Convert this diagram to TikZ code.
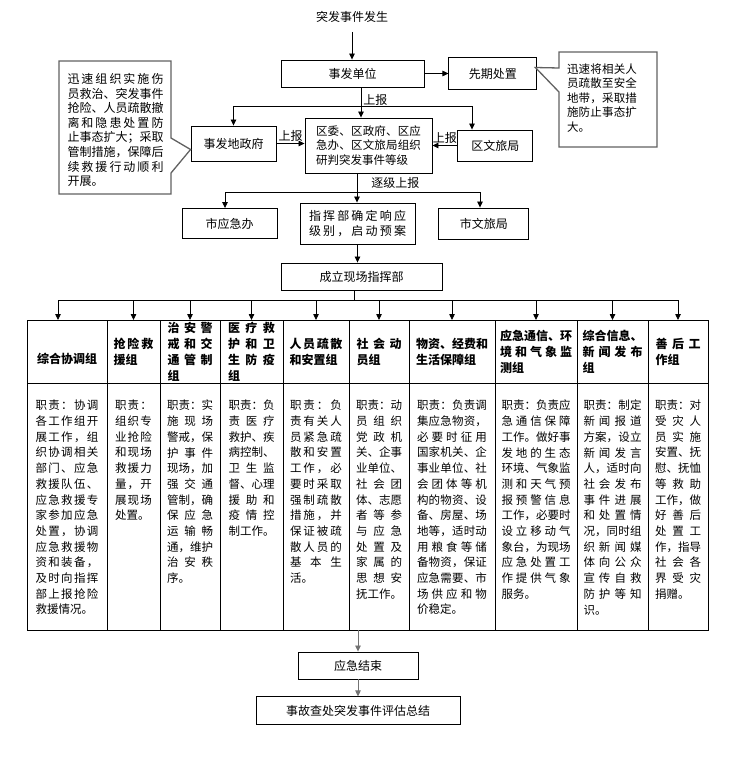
\documentclass[tikz,border=0pt]{standalone}
\usepackage{fontspec}
\setmainfont{Noto Sans CJK SC}
\usetikzlibrary{arrows.meta,positioning,calc}

\makeatletter
\newcommand\spreadln[1]{\hbox to\hsize{\spr@a#1\spr@stop}\par}
\def\spr@stop{\spr@stop}
\def\spr@a#1{#1\futurelet\spr@next\spr@b}
\def\spr@b{\ifx\spr@next\spr@stop\expandafter\@gobble\else\hfil\expandafter\spr@a\fi}
\makeatother

\begin{document}
\begin{tikzpicture} [
       x=1pt, y=-1pt,
       >={Triangle[length=6pt,width=5.5pt]},
       box/.style={draw, line width=0.9pt, inner sep=3pt,
               font=\fontsize{12}{15}\selectfont},
       lbl/.style={inner sep=2pt, font=\fontsize{12}{15}\selectfont},
       cell/.style={draw, line width=0.9pt, inner sep=0pt, outer sep=0pt,
               minimum height=63pt, align=left,
               font=\bfseries\fontsize{12}{16}\selectfont},
       bodycell/.style={draw, line width=0.9pt, inner sep=0pt, outer sep=0pt,
               minimum height=247pt},
       duty/.style={inner sep=0pt, align=left,
               font=\fontsize{11.5}{15.7}\selectfont},
       note/.style={inner sep=0pt, align=left},
       callout/.style={draw=black!62, line width=1.3pt},
       line/.style={draw, line width=0.8pt, ->},
       ]
       \useasboundingbox (0,0) rectangle (743,760);

       \node (start) [lbl] at (352,17) {突发事件发生};
       \node (sfdw) [box, minimum width=143pt, minimum height=27pt] at (352.5,73.5) {事发单位};
       \node (xqcz) [box, minimum width=88pt, minimum height=32pt, right=24pt of sfdw] {先期处置};
       \node (qw) [box, minimum width=127pt, minimum height=55pt, text width=105pt, align=left,
               font=\fontsize{11.5}{14.5}\selectfont] at (368.5,145.5)
               {\spreadln{区委、区政府、区应}\spreadln{急办、区文旅局组织}研判突发事件等级};
       \node (zfdzf) [box, minimum width=85pt, minimum height=35pt] at (233.5,143.5) {事发地政府};
       \node (qwlj) [box, minimum width=75pt, minimum height=31pt, right=25pt of qw] {区文旅局};
       \node (zhb) [box, minimum width=115pt, minimum height=41pt, text width=97pt, align=left] at (357.5,223.5)
               {\spreadln{指挥部确定响应}\spreadln{级别，启动预案}};
       \node (sjb) [box, minimum width=95pt, minimum height=30pt, left=22pt of zhb] {市应急办};
       \node (swlj) [box, minimum width=90pt, minimum height=31pt, right=23pt of zhb] {市文旅局};
       \node (xczhb) [box, minimum width=161pt, minimum height=27pt] at (361.5,276.5) {成立现场指挥部};

       \node (cl) [note, text width=96pt, font=\fontsize{12}{14.6}\selectfont] at (115.5,130)
               {\spreadln{迅速组织实施伤}\spreadln{员救治、突发事件}\spreadln{抢险、人员疏散撤}\spreadln{离和隐患处置防}%
                \spreadln{止事态扩大；采取}\spreadln{管制措施，保障后}\spreadln{续救援行动顺利}开展。};
       \node (cr) [note, text width=70pt, font=\fontsize{11.5}{14.5}\selectfont] at (602,98)
               {\spreadln{迅速将相关人}\spreadln{员疏散至安全}\spreadln{地带，采取措}\spreadln{施防止事态扩}大。};
       \draw[callout] (59,61) -- (171,61) -- (171,138) -- ($(zfdzf.west)+(0,6)$)
               -- (171,173) -- (171,194) -- (59,194) -- cycle;
       \draw[callout] (559,52) -- (657,52) -- (657,147) -- (559,147) -- (559,92)
               -- ($(xqcz.east)+(-2,-6)$) -- (559,68) -- cycle;

       \coordinate (h0) at (27,351.5);
       \foreach \w/\hw/\head [count=\i, remember=\i as \j (initially 0)] in {
               80/60/{\raisebox{-12pt}[0pt][0pt]{综合协调组}},
               53/40/{\spreadln{抢险救}援组},
               60/45/{\spreadln{治安警}\spreadln{戒和交}\spreadln{通管制}组},
               63/47/{\spreadln{医疗救}\spreadln{护和卫}\spreadln{生防疫}组},
               66/53/{\spreadln{人员疏散}和安置组},
               60/45/{\spreadln{社会动}员组},
               86/72/{\spreadln{物资、经费和}生活保障组},
               82/72/{\spreadln{应急通信、环}\spreadln{境和气象监}测组},
               71/60/{\spreadln{综合信息、}\spreadln{新闻发布}组},
               60/45/{\spreadln{善后工}作组}} {
           \node (h\i) [cell, minimum width=\w pt, text width=\hw pt, right=0pt of h\j] {\head};
           \node (b\i) [bodycell, minimum width=\w pt, below=0pt of h\i] {};
       }

       \node (d1) [duty, text width=63pt, below=17pt of b1.north]
               {\spreadln{职责：协调}\spreadln{各工作组开}\spreadln{展工作，组}\spreadln{织协调相关}%
                \spreadln{部门、应急}\spreadln{救援队伍、}\spreadln{应急救援专}\spreadln{家参加应急}%
                \spreadln{处置，协调}\spreadln{应急救援物}\spreadln{资和装备，}\spreadln{及时向指挥}%
                \spreadln{部上报抢险}救援情况。};
       \node (d2) [duty, text width=37pt, below=17pt of b2.north]
               {\spreadln{职责：}\spreadln{组织专}\spreadln{业抢险}\spreadln{和现场}\spreadln{救援力}%
                \spreadln{量，开}\spreadln{展现场}处置。};
       \node (d3) [duty, text width=46pt, below=17pt of b3.north]
               {\spreadln{职责：实}\spreadln{施现场}\spreadln{警戒，保}\spreadln{护事件}\spreadln{现场，加}%
                \spreadln{强交通}\spreadln{管制，确}\spreadln{保应急}\spreadln{运输畅}\spreadln{通，维护}%
                \spreadln{治安秩}序。};
       \node (d4) [duty, text width=46pt, below=17pt of b4.north]
               {\spreadln{职责：负}\spreadln{责医疗}\spreadln{救护、疾}\spreadln{病控制、}\spreadln{卫生监}%
                \spreadln{督、心理}\spreadln{援助和}\spreadln{疫情控}制工作。};
       \node (d5) [duty, text width=52pt, below=17pt of b5.north]
               {\spreadln{职责：负}\spreadln{责有关人}\spreadln{员紧急疏}\spreadln{散和安置}\spreadln{工作，必}%
                \spreadln{要时采取}\spreadln{强制疏散}\spreadln{措施，并}\spreadln{保证被疏}\spreadln{散人员的}%
                \spreadln{基本生}活。};
       \node (d6) [duty, text width=46pt, below=17pt of b6.north]
               {\spreadln{职责：动}\spreadln{员组织}\spreadln{党政机}\spreadln{关、企事}\spreadln{业单位、}%
                \spreadln{社会团}\spreadln{体、志愿}\spreadln{者等参}\spreadln{与应急}\spreadln{处置及}%
                \spreadln{家属的}\spreadln{思想安}抚工作。};
       \node (d7) [duty, text width=70pt, below=17pt of b7.north]
               {\spreadln{职责：负责调}\spreadln{集应急物资，}\spreadln{必要时征用}\spreadln{国家机关、企}%
                \spreadln{事业单位、社}\spreadln{会团体等机}\spreadln{构的物资、设}\spreadln{备、房屋、场}%
                \spreadln{地等，适时动}\spreadln{用粮食等储}\spreadln{备物资，保证}\spreadln{应急需要、市}%
                \spreadln{场供应和物}价稳定。};
       \node (d8) [duty, text width=69pt, below=17pt of b8.north]
               {\spreadln{职责：负责应}\spreadln{急通信保障}\spreadln{工作。做好事}\spreadln{发地的生态}%
                \spreadln{环境、气象监}\spreadln{测和天气预}\spreadln{报预警信息}\spreadln{工作，必要时}%
                \spreadln{设立移动气}\spreadln{象台，为现场}\spreadln{应急处置工}\spreadln{作提供气象}服务。};
       \node (d9) [duty, text width=58pt, below=17pt of b9.north]
               {\spreadln{职责：制定}\spreadln{新闻报道}\spreadln{方案，设立}\spreadln{新闻发言}%
                \spreadln{人，适时向}\spreadln{社会发布}\spreadln{事件进展}\spreadln{和处置情}%
                \spreadln{况，同时组}\spreadln{织新闻媒}\spreadln{体向公众}\spreadln{宣传自救}\spreadln{防护等知}识。};
       \node (d10) [duty, text width=46pt, below=17pt of b10.north]
               {\spreadln{职责：对}\spreadln{受灾人}\spreadln{员实施}\spreadln{安置、抚}\spreadln{慰、抚恤}%
                \spreadln{等救助}\spreadln{工作，做}\spreadln{好善后}\spreadln{处置工}\spreadln{作，指导}%
                \spreadln{社会各}\spreadln{界受灾}捐赠。};

       \node (yjjs) [box, minimum width=120pt, minimum height=27pt] at (358,665.5) {应急结束};
       \node (zgzj) [box, minimum width=204pt, minimum height=28pt, below=17pt of yjjs] {事故查处突发事件评估总结};

       \coordinate (j1) at (361,106);
       \coordinate (j1r) at (472,106);
       \coordinate (j2) at (357,192);
       \coordinate (j2l) at (225,192);
       \coordinate (j2r) at (480,192);
       \coordinate (j3) at (354,300);

       \draw[line width=0.8pt] (zfdzf.north |- j1) -- (j1r);
       \draw[line width=0.8pt] (j2l) -- (j2r);
       \draw[line width=0.8pt] (xczhb.south -| j3) -- (j3);
       \draw[line width=0.8pt] ($(h1.north |- j3)+(-9,0)$) -- (h10.north |- j3);
       \begin{scope}[every path/.style=line]
        \path[shorten <=7pt] (start.south) -- (start.south |- sfdw.north);
        \path (sfdw) -- (xqcz);
        \path (sfdw.south -| j1) -- node[lbl, right, pos=0.4] {上报} (qw.north -| j1);
        \path (zfdzf.north |- j1) -- (zfdzf.north);
        \path (j1r) -- (j1r |- qwlj.north);
        \path (zfdzf.east) -- node[lbl, above] {上报} (zfdzf.east -| qw.west);
        \path (qwlj.west) -- node[lbl, above] {上报} (qwlj.west -| qw.east);
        \path (qw.south -| j2) -- node[lbl, pos=0.33, right=12pt] {逐级上报} (zhb.north -| j2);
        \path (j2l) -- (j2l |- sjb.north);
        \path (j2r) -- (j2r |- swlj.north);
        \path (zhb.south) -- (zhb.south |- xczhb.north);
        \path ($(h1.north |- j3)+(-9,0)$) -- ($(h1.north)+(-9,0)$);
        \foreach \i in {2,...,10}
          \path (h\i.north |- j3) -- (h\i.north);
        \path[draw=black!55] (b6.south -| yjjs.north) -- (yjjs.north);
        \path[draw=black!55] (yjjs.south) -- (yjjs.south |- zgzj.north);
       \end{scope}
\end{tikzpicture}
\end{document}
